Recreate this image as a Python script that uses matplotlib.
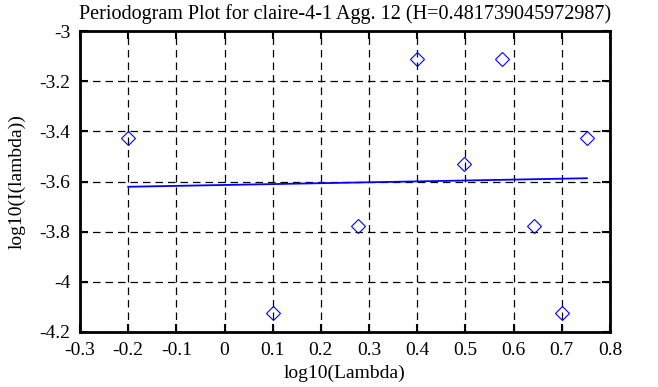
import matplotlib
matplotlib.use("Agg")
import matplotlib.pyplot as plt

# Valores
log_lambda = [-0.200, 0.101, 0.277, 0.400, 0.497, 0.576, 0.643, 0.701, 0.752]
log_periodograma = [-3.426, -4.124, -3.779, -3.112, -3.529, -3.112, -3.779, -4.124, -3.426]

# Recta de ajuste (extremos)
ajuste_x = [-0.200, 0.752]
ajuste_y = [-3.621, -3.587]

titulo = "Periodogram Plot for claire-4-1 Agg. 12 (H=0.481739045972987)"

plt.rcParams['font.family'] = ['Liberation Serif', 'DejaVu Serif']
plt.rcParams['font.size'] = 14

fig = plt.figure(figsize=(6.58, 3.87), dpi=100)
ax = fig.add_axes([80 / 658, 1 - 332 / 387, 530 / 658, 301 / 387])

ax.plot(ajuste_x, ajuste_y, color='#0000ff', linewidth=1.3)
ax.plot(log_lambda, log_periodograma, linestyle='none', marker='D', markersize=7.5,
        markerfacecolor='none', markeredgecolor='#0000ff', markeredgewidth=0.8)

ax.set_xlim(-0.3, 0.8)
ax.set_ylim(-4.2, -3.0)
ax.set_xticks([-0.3, -0.2, -0.1, 0, 0.1, 0.2, 0.3, 0.4, 0.5, 0.6, 0.7, 0.8])
ax.set_xticklabels(['-0.3', '-0.2', '-0.1', '0', '0.1', '0.2', '0.3', '0.4', '0.5', '0.6', '0.7', '0.8'])
ax.set_yticks([-4.2, -4.0, -3.8, -3.6, -3.4, -3.2, -3.0])
ax.set_yticklabels(['-4.2', '-4', '-3.8', '-3.6', '-3.4', '-3.2', '-3'])

ax.grid(True, color='black', linestyle=(0, (6, 4)), linewidth=0.9)
ax.tick_params(direction='in', length=6, width=1.5, top=True, right=True, pad=7)
for lado in ax.spines.values():
	lado.set_linewidth(2)

ax.set_title(titulo, fontsize=14.5, pad=9)
ax.set_xlabel("log10(Lambda)", labelpad=4)
ax.set_ylabel("log10(I(lambda))", labelpad=10)

fig.savefig("out.png", dpi=100)
